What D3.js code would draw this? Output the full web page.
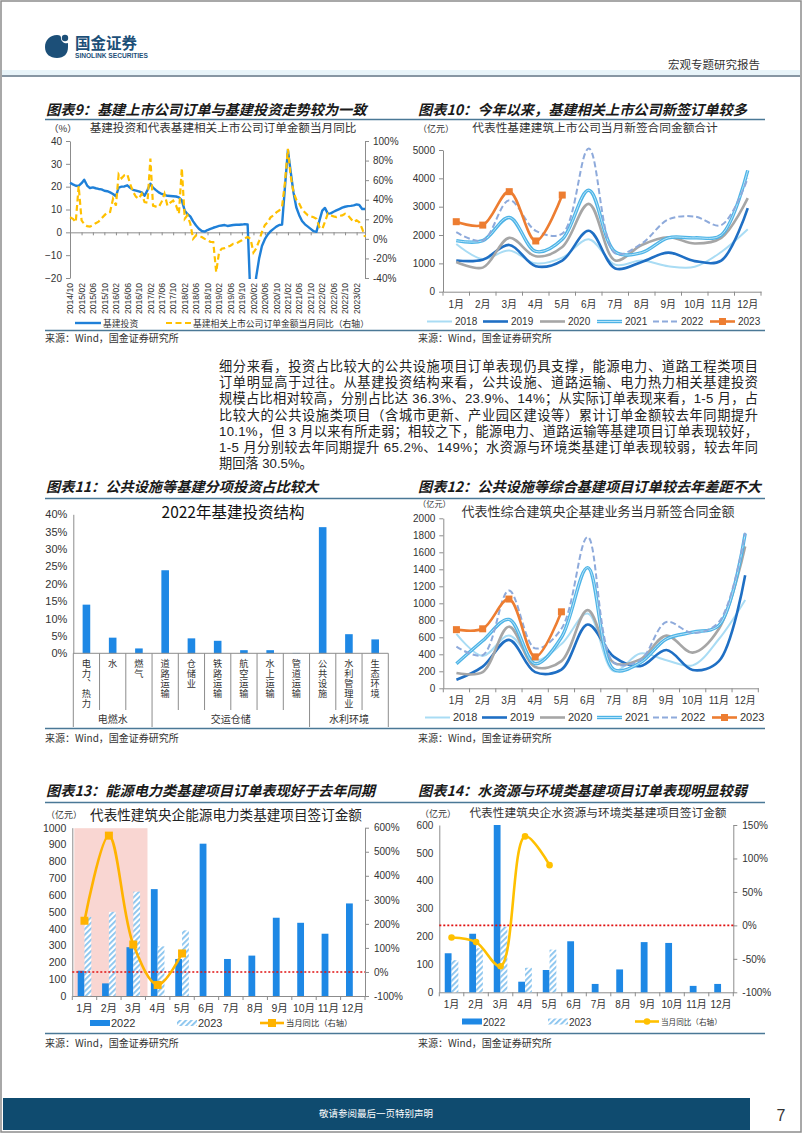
<!DOCTYPE html>
<html><head><meta charset="utf-8">
<script src="https://cdn.jsdelivr.net/npm/d3@7"></script>
<style>
body{margin:0;background:#fff;}
svg{display:block;}
.vt{writing-mode:vertical-rl;text-orientation:upright;}
</style></head><body>
<svg id="page" width="802" height="1133"></svg>
<script>
// ================= DATA =================
// Chart 9
const c9StartMonth = [2014, 9];   // Oct 2014
const c9EndMonth = [2023, 4];     // May 2023
const c9Infra = [21.7,21.0,20.4,20.3,21.5,23.0,20.5,19.4,19.7,19.3,19.0,18.8,18.2,18.0,17.5,16.8,15.8,19.6,20.0,20.1,20.6,19.5,18.6,18.3,17.9,17.5,16.0,18.5,21.3,19.6,18.5,17.5,16.8,16.4,16.0,15.9,15.8,15.7,15.3,14.0,9.5,8.0,7.0,4.8,3.0,1.6,0.6,0.3,1.0,1.5,2.0,2.4,2.8,3.0,3.2,2.8,3.0,3.2,3.3,3.3,3.4,3.6,3.5,-30,-30,-19.5,-11.5,-6.0,-3.0,-1.0,0.5,1.5,2.5,3.2,3.4,20.0,36.0,27.0,17.5,11.0,7.5,5.0,3.5,2.5,1.5,0.5,0.2,5.0,9.5,10.7,8.2,8.3,9.0,9.6,10.2,10.8,11.2,11.5,11.6,11.8,12.2,12.0,10.2,10.2];
const c9Orders = [22,20.5,17,54,19,15,13,12.5,14,16,17.5,21,24,27,27.5,41,34,66,62,65,66,56,48,43,41,46,37.6,37,82,34,33,32.5,38,46,34,37,39,34,25.7,72,20.6,24,15.5,0,3.6,2.5,1.9,0,-1.5,-3,-3.2,-34,-13.5,-10,-9.5,-8.3,-7,-5,-4.9,-3,-1.5,0.5,1.9,0,-14,-10,-2,7,14,17,22,24,27,29,33,58,92,65,48,40,36,30,27,24,23,22,20.6,12,10,17.2,25.7,24,23,22.3,23.5,24,25.7,24,20.6,17.2,18.9,17,10.4,1.9];
const c9TickLabels = ["2014/10","2015/02","2015/06","2015/10","2016/02","2016/06","2016/10","2017/02","2017/06","2017/10","2018/02","2018/06","2018/10","2019/02","2019/06","2019/10","2020/02","2020/06","2020/10","2021/02","2021/06","2021/10","2022/02","2022/06","2022/10","2023/02"];
const c9LeftTicks = [-20,-10,0,10,20,30,40];
const c9RightTicks = [-40,-20,0,20,40,60,80,100];

// Charts 10 & 12
const monthLabels = ["1月","2月","3月","4月","5月","6月","7月","8月","9月","10月","11月","12月"];
const yearNames = ["2018","2019","2020","2021","2022","2023"];
const c10_2018 = [1680,1150,1450,1000,1200,1850,950,1100,900,880,1400,2200];
const c10_2019 = [1100,1130,1650,900,1100,2150,820,1050,1380,1080,1100,2950];
const c10_2020 = [1050,850,1900,1250,1580,3100,1100,1650,1920,1700,1900,3300];
const c10_2021 = [1800,1800,2620,1420,1850,3580,1400,1380,1900,1900,2000,4280];
const c10_2022 = [2100,1800,3230,2150,2050,5050,1350,1700,2550,2650,2350,4000];
const c10_2023 = [2470,2350,3530,1790,3410];
const c10Ticks = [0,1000,2000,3000,4000,5000];

const c12_2018 = [640,380,620,330,520,880,200,410,330,270,580,1040];
const c12_2019 = [100,255,570,190,220,750,370,260,450,215,320,1330];
const c12_2020 = [180,190,725,250,320,920,300,340,620,420,700,1670];
const c12_2021 = [290,560,810,290,600,1420,220,300,580,660,740,1820];
const c12_2022 = [490,390,1150,470,700,1780,300,330,780,650,780,1830];
const c12_2023 = [690,700,1050,370,900];
const c12Ticks = [0,200,400,600,800,1000,1200,1400,1600,1800,2000];

// Chart 11
const c11Cats = ["电力、热力","水","燃气","道路运输","仓储业","铁路运输","航空运输","水上运输","管道运输","公共设施","水利管理业","生态环境"];
const c11Vals = [14.0,4.5,1.4,23.9,4.3,3.6,0.9,0.9,0.1,36.3,5.5,4.0];
const c11Groups = ["电燃水","交运仓储","水利环境"];
const c11GroupStart = [0,3,9];
const c11GroupEnd = [3,9,12];
const c11Ticks = [0,5,10,15,20,25,30,35,40];

// Chart 13
const c13_2022 = [150,75,290,635,220,905,220,240,465,435,370,550];
const c13_2023 = [470,500,620,295,390];
const c13Yoy = [213,567,114,-54,77];
const c13LeftTicks = [0,100,200,300,400,500,600,700,800,900,1000];
const c13RightTicks = [-100,0,100,200,300,400,500,600];

// Chart 14
const c14_2022 = [140,210,600,38,80,183,30,82,180,177,23,30];
const c14_2023 = [115,158,235,88,153];
const c14Yoy = [-18,-25,-61,133,90];
const c14LeftTicks = [0,100,200,300,400,500,600];
const c14RightTicks = [-100,-50,0,50,100,150];

// Text
const paraLines = [
 "细分来看，投资占比较大的公共设施项目订单表现仍具支撑，能源电力、道路工程类项目",
 "订单明显高于过往。从基建投资结构来看，公共设施、道路运输、电力热力相关基建投资",
 "规模占比相对较高，分别占比达 36.3%、23.9%、14%；从实际订单表现来看，1-5 月，占",
 "比较大的公共设施类项目（含城市更新、产业园区建设等）累计订单金额较去年同期提升",
 "10.1%，但 3 月以来有所走弱；相较之下，能源电力、道路运输等基建项目订单表现较好，",
 "1-5 月分别较去年同期提升 65.2%、149%；水资源与环境类基建订单表现较弱，较去年同",
 "期回落 30.5%。"
];

// ================= DRAWING =================
const CN = '"Noto Sans CJK SC", sans-serif';
const NUM = '"Liberation Sans", Arial, "Noto Sans CJK SC", sans-serif';
const fmtInt = d3.format("d");
const svg = d3.select("#page");
const defs = svg.append("defs");
const hatch = defs.append("pattern").attr("id","hatch").attr("patternUnits","userSpaceOnUse")
  .attr("width",4).attr("height",4).attr("patternTransform","rotate(45)");
hatch.append("rect").attr("width",4).attr("height",4).attr("fill","#fff");
hatch.append("rect").attr("width",1.8).attr("height",4).attr("fill","#86c3ee");

function txt(g, x, y, s, o = {}) {
  const t = g.append("text").attr("x", x).attr("y", y).text(s)
    .attr("font-family", o.ff || CN).attr("font-size", o.fs || 12)
    .attr("fill", o.fill || "#222");
  if (o.anchor) t.attr("text-anchor", o.anchor);
  if (o.weight) t.attr("font-weight", o.weight);
  if (o.italic) t.attr("font-style", "italic");
  if (o.len) t.attr("textLength", o.len).attr("lengthAdjust", "spacing");
  return t;
}
function styleAxis(g, fs) {
  g.attr("font-family", NUM).attr("font-size", fs);
  g.selectAll(".domain").attr("stroke", "#8c8c8c").attr("stroke-width", 1);
  g.selectAll(".tick line").attr("stroke", "#8c8c8c");
  g.selectAll(".tick text").attr("fill", "#333");
}
function hline(x1, x2, y, c, w) {
  svg.append("line").attr("x1", x1).attr("x2", x2).attr("y1", y).attr("y2", y)
    .attr("stroke", c).attr("stroke-width", w);
}

// Page frame
svg.append("rect").attr("x",1).attr("y",1).attr("width",800).attr("height",1131)
  .attr("fill","none").attr("stroke","#8c8c8c").attr("stroke-width",1.5);

// Header
const hdr = svg.append("g");
hdr.append("path").attr("d","M57,35 C50,35 45,40 45,47 C45,54 50,58 57,58 C64,58 68,54 68,47 L68,43 C65,44 61,42 61,38 C61,36 60,35 57,35 Z").attr("fill","#1c4f78");
hdr.append("circle").attr("cx",65).attr("cy",38).attr("r",3.2).attr("fill","#1c4f78");
txt(hdr, 75, 49, "国金证券", {fs:15.5, weight:"bold", fill:"#1c4f78"});
txt(hdr, 75, 57.5, "SINOLINK SECURITIES", {ff:NUM, fs:6.6, weight:"bold", fill:"#1c4f78"});
txt(hdr, 760, 69, "宏观专题研究报告", {fs:11.5, anchor:"end", fill:"#333"});
svg.append("rect").attr("x",2).attr("y",70).attr("width",798).attr("height",5).attr("fill","#e8f4f9");
hline(2, 800, 76, "#8796a3", 2);

// Footer
svg.append("rect").attr("x",3).attr("y",1098).attr("width",747).attr("height",32).attr("fill","#0f4b6f");
txt(svg, 376, 1117, "敬请参阅最后一页特别声明", {fs:9.5, anchor:"middle", fill:"#fff"});
txt(svg, 781, 1121, "7", {ff:NUM, fs:16, anchor:"middle", fill:"#333"});

// Section titles & separators
const SEP = "#4a7896";
function section(x, y, s) { txt(svg, x, y, s, {fs:14.2, weight:"bold", italic:true, fill:"#1a1a1a"}); }
section(46, 115, "图表9：基建上市公司订单与基建投资走势较为一致");
section(418, 115, "图表10：今年以来，基建相关上市公司新签订单较多");
hline(45, 765, 119.5, SEP, 1.5);
hline(45, 765, 330.5, SEP, 1.5);
txt(svg, 45, 342, "来源：Wind，国金证券研究所", {fs:10, fill:"#333"});
txt(svg, 418, 342, "来源：Wind，国金证券研究所", {fs:10, fill:"#333"});

section(46, 492, "图表11：公共设施等基建分项投资占比较大");
section(418, 492, "图表12：公共设施等综合基建项目订单较去年差距不大");
hline(45, 765, 498.5, SEP, 1.5);
hline(45, 765, 728.5, SEP, 1.5);
txt(svg, 45, 742, "来源：Wind，国金证券研究所", {fs:10, fill:"#333"});
txt(svg, 418, 742, "来源：Wind，国金证券研究所", {fs:10, fill:"#333"});

section(46, 796, "图表13：能源电力类基建项目订单表现好于去年同期");
section(418, 796, "图表14：水资源与环境类基建项目订单表现明显较弱");
hline(45, 765, 802.5, SEP, 1.5);
hline(45, 765, 1033.5, SEP, 1.5);
txt(svg, 45, 1047, "来源：Wind，国金证券研究所", {fs:10, fill:"#333"});
txt(svg, 418, 1047, "来源：Wind，国金证券研究所", {fs:10, fill:"#333"});

// Paragraph
paraLines.forEach((s, i) => {
  txt(svg, 219, 371 + i * 16.2, s, {ff:NUM, fs:13.2, fill:"#222", len: i < 6 ? 539 : null});
});

// ================= Chart 9 =================
{
  const g = svg.append("g");
  const months = d3.timeMonth.range(new Date(c9StartMonth[0], c9StartMonth[1], 1), new Date(c9EndMonth[0], c9EndMonth[1] + 1, 1));
  const parse = d3.timeParse("%Y/%m");
  const x = d3.scaleTime().domain([months[0], months[months.length - 1]]).range([70, 365]);
  const yL = d3.scaleLinear().domain([-20, 40]).range([278, 141]);
  const yR = d3.scaleLinear().domain([-40, 100]).range([278, 141]);
  defs.append("clipPath").attr("id","clip9").append("rect").attr("x",69).attr("y",139).attr("width",298).attr("height",140);

  txt(g, 49, 132, "（%）", {fs:9.5, fill:"#333"});
  txt(g, 223, 132, "基建投资和代表基建相关上市公司订单金额当月同比", {fs:11.6, anchor:"middle", fill:"#333"});

  g.append("g").attr("transform","translate(70,0)")
    .call(d3.axisLeft(yL).tickValues(c9LeftTicks).tickSize(4).tickSizeOuter(0).tickPadding(4)).call(styleAxis, 10);
  g.append("g").attr("transform","translate(365,0)")
    .call(d3.axisRight(yR).tickValues(c9RightTicks).tickSize(4).tickSizeOuter(0).tickPadding(4).tickFormat(d => d + "%")).call(styleAxis, 10);
  g.append("g").attr("transform",`translate(0,${yL(0)})`)
    .call(d3.axisBottom(x).tickValues(c9TickLabels.map(parse)).tickSize(3).tickSizeOuter(0).tickFormat("")).call(styleAxis, 9);
  c9TickLabels.forEach(s => {
    g.append("text").attr("transform", `translate(${x(parse(s)) + 3.2},283) rotate(-90)`)
      .attr("text-anchor","end").attr("font-family", NUM).attr("font-size", 8.6).attr("fill","#333").text(s);
  });
  const lineL = d3.line().x((d, i) => x(months[i])).y(d => yL(d));
  const lineR = d3.line().x((d, i) => x(months[i])).y(d => yR(d));
  g.append("path").datum(c9Infra).attr("d", lineL).attr("clip-path","url(#clip9)")
    .attr("fill","none").attr("stroke","#1f80d8").attr("stroke-width",2.4).attr("stroke-linejoin","round");
  g.append("path").datum(c9Orders).attr("d", lineR).attr("clip-path","url(#clip9)")
    .attr("fill","none").attr("stroke","#ffc000").attr("stroke-width",2.2).attr("stroke-dasharray","6,3.5");
  g.append("line").attr("x1",75).attr("x2",101).attr("y1",323).attr("y2",323).attr("stroke","#1f80d8").attr("stroke-width",2.4);
  txt(g, 103, 326.5, "基建投资", {fs:8.8, fill:"#333"});
  g.append("line").attr("x1",166).attr("x2",191).attr("y1",323).attr("y2",323).attr("stroke","#ffc000").attr("stroke-width",2.2).attr("stroke-dasharray","6,3.5");
  txt(g, 193, 326.5, "基建相关上市公司订单金额当月同比（右轴）", {fs:8.8, fill:"#333"});
}

// ================= Charts 10 & 12 =================
const yearStyle = {
  "2018": {c:"#a9dcf4", w:2},
  "2019": {c:"#1f6fc4", w:2.6},
  "2020": {c:"#a6a6a6", w:2.6},
  "2021": {c:"#4db3e6", w:3.4, inner:"#c4eafb"},
  "2022": {c:"#8eaadb", w:2, dash:"6,3"},
  "2023": {c:"#ed7d31", w:2.6, marker:true}
};
function yearChart(o) {
  const g = svg.append("g");
  const x = d3.scaleBand().domain(monthLabels).range([o.x0, o.x1]);
  const y = d3.scaleLinear().domain([0, o.max]).range([o.y0, o.y1]);
  g.append("g").attr("transform",`translate(${o.x0},0)`)
    .call(d3.axisLeft(y).tickValues(o.ticks).tickFormat(fmtInt).tickSize(4).tickSizeOuter(0).tickPadding(4)).call(styleAxis, o.fs);
  g.append("g").attr("transform",`translate(0,${o.y0})`)
    .call(d3.axisBottom(x).tickSize(0).tickSizeOuter(0).tickPadding(9)).call(styleAxis, o.fs);
  d3.range(13).forEach(i => {
    const xx = o.x0 + i * x.step();
    g.append("line").attr("x1",xx).attr("x2",xx).attr("y1",o.y0).attr("y2",o.y0+4).attr("stroke","#8c8c8c");
  });
  const cx = m => x(m) + x.bandwidth() / 2;
  const line = d3.line().x((d, i) => cx(monthLabels[i])).y(d => y(d)).curve(d3.curveCatmullRom.alpha(0.5));
  o.series.forEach((vals, k) => {
    const st = yearStyle[yearNames[k]];
    const p = g.append("path").datum(vals).attr("d", line).attr("fill","none")
      .attr("stroke", st.c).attr("stroke-width", st.w).attr("stroke-linejoin","round");
    if (st.dash) p.attr("stroke-dasharray", st.dash);
    if (st.inner) g.append("path").datum(vals).attr("d", line).attr("fill","none").attr("stroke", st.inner).attr("stroke-width", 0.9);
    if (st.marker) g.selectAll(null).data(vals).enter().append("rect")
      .attr("x", (d, i) => cx(monthLabels[i]) - 3.5).attr("y", d => y(d) - 3.5)
      .attr("width", 7).attr("height", 7).attr("fill", st.c);
  });
  yearNames.forEach((yn, k) => {
    const st = yearStyle[yn];
    const lx = o.legX[k];
    const l = g.append("line").attr("x1", lx).attr("x2", lx + 25).attr("y1", o.legY).attr("y2", o.legY)
      .attr("stroke", st.c).attr("stroke-width", st.w);
    if (st.dash) l.attr("stroke-dasharray", st.dash);
    if (st.inner) g.append("line").attr("x1", lx).attr("x2", lx + 25).attr("y1", o.legY).attr("y2", o.legY).attr("stroke", st.inner).attr("stroke-width", 0.9);
    if (st.marker) g.append("rect").attr("x", lx + 9).attr("y", o.legY - 3.5).attr("width", 7).attr("height", 7).attr("fill", st.c);
    txt(g, lx + 28, o.legY + 3.8, yn, {ff:NUM, fs:o.legFs, fill:"#333"});
  });
  return g;
}
{
  const g = yearChart({x0:443, x1:761, y0:291.7, y1:150, max:5000, ticks:c10Ticks, fs:10, legFs:10,
    series:[c10_2018,c10_2019,c10_2020,c10_2021,c10_2022,c10_2023],
    legX:[427,483,540,597,653,710], legY:321.5});
  txt(g, 418, 132, "（亿元）", {fs:9, fill:"#333"});
  txt(g, 595, 132, "代表性基建建筑上市公司当月新签合同金额合计", {fs:11.7, anchor:"middle", fill:"#333"});
}
{
  const g = yearChart({x0:443.3, x1:758.3, y0:688.3, y1:518.3, max:2000, ticks:c12Ticks, fs:10, legFs:11,
    series:[c12_2018,c12_2019,c12_2020,c12_2021,c12_2022,c12_2023],
    legX:[425,482,540,597,653,712], legY:717.5});
  txt(g, 418, 507, "（亿元）", {fs:8.2, fill:"#333"});
  txt(g, 598, 516, "代表性综合建筑央企基建业务当月新签合同金额", {fs:13, anchor:"middle", fill:"#333"});
}

// ================= Chart 11 =================
{
  const g = svg.append("g");
  const x = d3.scaleBand().domain(c11Cats).range([73.3, 388.3]);
  const y = d3.scaleLinear().domain([0, 40]).range([653.3, 514.3]);
  txt(g, 233, 518, "2022年基建投资结构", {fs:15.5, anchor:"middle", fill:"#111"});
  g.append("g").attr("transform","translate(73.3,0)")
    .call(d3.axisLeft(y).tickValues(c11Ticks).tickSize(0).tickSizeOuter(0).tickPadding(6).tickFormat(d => d + "%")).call(styleAxis, 11);
  g.selectAll(null).data(c11Vals).enter().append("rect")
    .attr("x", (d, i) => x(c11Cats[i]) + x.bandwidth() / 2 - 3.8).attr("width", 7.6)
    .attr("y", d => y(d)).attr("height", d => y(0) - y(d)).attr("fill", "#1e88e5");
  g.append("line").attr("x1",73.3).attr("x2",388.3).attr("y1",653.3).attr("y2",653.3).attr("stroke","#8c8c8c");
  c11Cats.forEach(c => {
    g.append("text").attr("class","vt").attr("x", x(c) + x.bandwidth() / 2).attr("y", 658.5)
      .attr("font-family", CN).attr("font-size", 9.2).attr("letter-spacing", 0.9).attr("fill", "#333").text(c);
  });
  d3.range(13).forEach(b => {
    const xx = 73.3 + b * x.step();
    const isGroup = c11GroupStart.includes(b) || b === 12;
    g.append("line").attr("x1",xx).attr("x2",xx).attr("y1",653.3).attr("y2", isGroup ? 727 : 710).attr("stroke","#8c8c8c");
  });
  c11Groups.forEach((nm, k) => {
    const xm = 73.3 + (c11GroupStart[k] + c11GroupEnd[k]) / 2 * x.step();
    txt(g, xm, 722.5, nm, {fs:10, anchor:"middle", fill:"#333"});
  });
}

// ================= Charts 13 & 14 =================
function barChart(o) {
  const g = svg.append("g");
  const x = d3.scaleBand().domain(monthLabels).range([o.x0, o.x1]);
  const yL = d3.scaleLinear().domain(o.lDom).range([o.y0, o.y1]);
  const yR = d3.scaleLinear().domain(o.rDom).range([o.y0, o.y1]);
  if (o.shade) {
    g.append("rect").attr("x", x(monthLabels[0]) + 2).attr("y", o.y1 + 0.5)
      .attr("width", x(monthLabels[2]) + x.step() - x(monthLabels[0])).attr("height", o.y0 - o.y1 - 0.5)
      .attr("fill", "#f9d6d2");
  }
  g.append("g").attr("transform",`translate(${o.x0},0)`)
    .call(d3.axisLeft(yL).tickValues(o.lTicks).tickFormat(fmtInt).tickSize(0).tickSizeOuter(0).tickPadding(6)).call(styleAxis, o.fs);
  g.append("g").attr("transform",`translate(${o.x1},0)`)
    .call(d3.axisRight(yR).tickValues(o.rTicks).tickSize(4).tickSizeOuter(0).tickPadding(5).tickFormat(d => d + "%")).call(styleAxis, o.rfs);
  g.append("g").attr("transform",`translate(0,${o.y0})`)
    .call(d3.axisBottom(x).tickSize(0).tickSizeOuter(0).tickPadding(9)).call(styleAxis, o.fs);
  d3.range(13).forEach(i => {
    const xx = o.x0 + i * x.step();
    g.append("line").attr("x1",xx).attr("x2",xx).attr("y1",o.y0).attr("y2",o.y0+4).attr("stroke","#8c8c8c");
  });
  const bw = 6.8;
  const cx = i => x(monthLabels[i]) + x.bandwidth() / 2;
  g.selectAll(null).data(o.a).enter().append("rect")
    .attr("x", (d, i) => cx(i) - bw).attr("width", bw)
    .attr("y", d => yL(d)).attr("height", d => yL(0) - yL(d)).attr("fill", "#1e88e5");
  g.selectAll(null).data(o.b).enter().append("rect")
    .attr("x", (d, i) => cx(i)).attr("width", bw)
    .attr("y", d => yL(d)).attr("height", d => yL(0) - yL(d)).attr("fill", "url(#hatch)");
  g.append("line").attr("x1", o.x0).attr("x2", o.x1).attr("y1", yR(0)).attr("y2", yR(0))
    .attr("stroke", "#e01010").attr("stroke-width", 1.6).attr("stroke-dasharray", "2,2");
  const line = d3.line().x((d, i) => cx(i)).y(d => yR(d)).curve(d3.curveCatmullRom.alpha(0.5));
  g.append("path").datum(o.yoy).attr("d", line).attr("fill","none").attr("stroke", o.lc).attr("stroke-width", 2.6);
  if (o.square) {
    g.selectAll(null).data(o.yoy).enter().append("rect")
      .attr("x", (d, i) => cx(i) - 4).attr("y", d => yR(d) - 4).attr("width", 8).attr("height", 8).attr("fill", o.lc);
  } else {
    g.selectAll(null).data(o.yoy).enter().append("circle")
      .attr("cx", (d, i) => cx(i)).attr("cy", d => yR(d)).attr("r", 3.3).attr("fill", o.lc);
  }
  const L = o.leg;
  g.append("rect").attr("x", L[0]).attr("y", o.legY - 3).attr("width", 20).attr("height", 6).attr("fill", "#1e88e5");
  txt(g, L[0] + 21, o.legY + 4, "2022", {ff:NUM, fs:o.legFs, fill:"#333"});
  g.append("rect").attr("x", L[1]).attr("y", o.legY - 3).attr("width", 20).attr("height", 6).attr("fill", "url(#hatch)");
  txt(g, L[1] + 21, o.legY + 4, "2023", {ff:NUM, fs:o.legFs, fill:"#333"});
  g.append("line").attr("x1", L[2]).attr("x2", L[2] + 24).attr("y1", o.legY).attr("y2", o.legY).attr("stroke", o.lc).attr("stroke-width", 2.6);
  if (o.square) g.append("rect").attr("x", L[2] + 8).attr("y", o.legY - 4).attr("width", 8).attr("height", 8).attr("fill", o.lc);
  else g.append("circle").attr("cx", L[2] + 12).attr("cy", o.legY).attr("r", 3.3).attr("fill", o.lc);
  txt(g, L[2] + 26, o.legY + 3, "当月同比（右轴）", {fs:o.lineLegFs, fill:"#333"});
  return g;
}
{
  const g = barChart({x0:72.3, x1:365, y0:996, y1:827.7, lDom:[0,1000], rDom:[-100,600],
    lTicks:c13LeftTicks, rTicks:c13RightTicks, fs:10.5, rfs:10, legFs:11, lineLegFs:8.3,
    a:c13_2022, b:c13_2023, yoy:c13Yoy,
    lc:"#ffb300", square:true, shade:true, leg:[90,177,260], legY:1023});
  txt(g, 46, 818, "（亿元）", {fs:9, fill:"#333"});
  txt(g, 226, 820, "代表性建筑央企能源电力类基建项目签订金额", {fs:13.6, anchor:"middle", fill:"#222"});
}
{
  const g = barChart({x0:439.3, x1:733.3, y0:992.3, y1:825, lDom:[0,600], rDom:[-100,150],
    lTicks:c14LeftTicks, rTicks:c14RightTicks, fs:10, rfs:10, legFs:10, lineLegFs:7.6,
    a:c14_2022, b:c14_2023, yoy:c14Yoy,
    lc:"#ffc000", square:false, shade:false, leg:[462,548,635], legY:1021.5});
  txt(g, 420, 817, "（亿元）", {fs:9, fill:"#333"});
  txt(g, 598, 817, "代表性建筑央企水资源与环境类基建项目签订金额", {fs:11.7, anchor:"middle", fill:"#333"});
}
</script>
</body></html>
